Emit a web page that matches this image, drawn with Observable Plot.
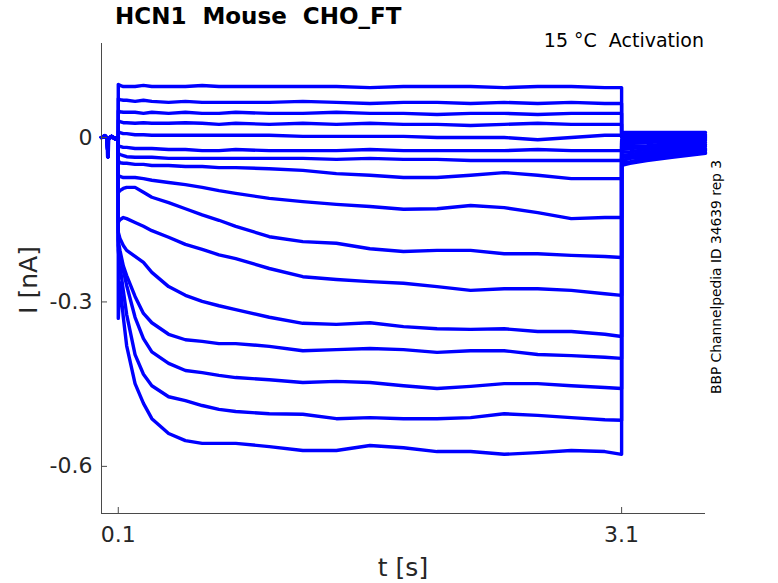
<!DOCTYPE html>
<html>
<head>
<meta charset="utf-8">
<script src="https://cdn.jsdelivr.net/npm/d3@7"></script>
<script src="https://cdn.jsdelivr.net/npm/@observablehq/plot@0.6"></script>
<style>
  html, body { margin: 0; padding: 0; background: #fff; }
  #wrap { position: relative; width: 778px; height: 583px; font-family: "DejaVu Sans", sans-serif; color: #000; }
  #wrap svg { position: absolute; left: 0; top: 0; }
  .lbl { position: absolute; white-space: nowrap; }
</style>
</head>
<body>
<div id="wrap">
  <div class="lbl" id="title" style="left:115px; top:3px; font-weight:bold; font-size:23px;">HCN1&nbsp; Mouse&nbsp; CHO_FT</div>
  <div class="lbl" id="subtitle" style="right:74px; top:29px; font-size:19px; color:#000;">15 °C&nbsp; Activation</div>
  <div class="lbl" id="ylab" style="left:28px; top:280px; font-size:25px; color:#262626; transform:translate(-50%,-50%) rotate(-90deg);">I [nA]</div>
  <div class="lbl" id="xlab" style="left:403px; top:567px; font-size:25px; color:#262626; transform:translate(-50%,-50%);">t [s]</div>
  <div class="lbl" id="side" style="left:716px; top:277px; font-size:13.8px; color:#000; transform:translate(-50%,-50%) rotate(-90deg);">BBP Channelpedia ID 34639 rep 3</div>
</div>
<script>
// ---- data ----
const xTicks = [0.1, 3.1];
const xTickLabels = ["0.1", "3.1"];
const yTicks = [-0.6, -0.3, 0];
const yTickLabels = ["-0.6", "-0.3", "0"];
const xDomain = [0, 3.6];
const yDomain = [-0.686, 0.1715];

// holding period before the step (s, nA)
const preTimes  = [0, 0.02, 0.035, 0.038, 0.041, 0.06, 0.08, 0.1];
const preValues = [0.0, 0.003, -0.002, -0.035, -0.003, 0.002, -0.002, 0.0];

// test-pulse sample times (s)
const stepTimes = [0.1, 0.11, 0.13, 0.15, 0.2, 0.25, 0.3, 0.4, 0.5, 0.6, 0.7, 0.8, 1.0, 1.2, 1.4, 1.6, 1.8, 2.0, 2.2, 2.4, 2.6, 2.8, 3.0, 3.1];

// current during the test pulse, one array per sweep (nA)
const sweep01 = [0.097, 0.095, 0.093, 0.093, 0.093, 0.095, 0.093, 0.093, 0.093, 0.095, 0.093, 0.093, 0.093, 0.093, 0.093, 0.091, 0.093, 0.093, 0.093, 0.091, 0.093, 0.093, 0.091, 0.091];
const sweep02 = [0.071, 0.069, 0.068, 0.068, 0.066, 0.068, 0.066, 0.064, 0.066, 0.064, 0.064, 0.064, 0.064, 0.066, 0.064, 0.062, 0.064, 0.064, 0.062, 0.064, 0.062, 0.064, 0.062, 0.062];
const sweep03 = [0.049, 0.047, 0.046, 0.046, 0.046, 0.044, 0.046, 0.044, 0.046, 0.044, 0.044, 0.046, 0.044, 0.044, 0.046, 0.044, 0.044, 0.042, 0.044, 0.044, 0.042, 0.044, 0.044, 0.044];
const sweep04 = [0.031, 0.029, 0.027, 0.027, 0.026, 0.027, 0.026, 0.026, 0.027, 0.026, 0.024, 0.026, 0.024, 0.026, 0.024, 0.026, 0.024, 0.024, 0.022, 0.024, 0.026, 0.024, 0.024, 0.024];
const sweep05 = [0.011, 0.009, 0.007, 0.007, 0.005, 0.005, 0.004, 0.004, 0.004, 0.004, 0.004, 0.004, 0.004, 0.002, 0.002, 0.002, 0.002, 0.000, 0.000, 0.000, -0.004, 0.000, 0.004, 0.004];
const sweep06 = [-0.015, -0.016, -0.018, -0.018, -0.020, -0.020, -0.020, -0.022, -0.022, -0.024, -0.024, -0.022, -0.024, -0.024, -0.024, -0.022, -0.024, -0.024, -0.024, -0.024, -0.022, -0.024, -0.024, -0.024];
const sweep07 = [-0.029, -0.031, -0.033, -0.035, -0.036, -0.036, -0.036, -0.038, -0.038, -0.038, -0.038, -0.038, -0.038, -0.038, -0.040, -0.038, -0.040, -0.040, -0.042, -0.042, -0.042, -0.042, -0.042, -0.042];
const sweep08 = [-0.042, -0.046, -0.047, -0.047, -0.049, -0.049, -0.051, -0.051, -0.053, -0.053, -0.055, -0.055, -0.057, -0.060, -0.066, -0.069, -0.073, -0.073, -0.069, -0.064, -0.069, -0.075, -0.075, -0.075];
const sweep09 = [-0.069, -0.071, -0.073, -0.073, -0.073, -0.075, -0.078, -0.082, -0.086, -0.091, -0.097, -0.102, -0.111, -0.117, -0.122, -0.126, -0.131, -0.130, -0.124, -0.128, -0.137, -0.148, -0.146, -0.146];
const sweep10 = [-0.100, -0.097, -0.093, -0.091, -0.091, -0.100, -0.109, -0.119, -0.130, -0.141, -0.151, -0.162, -0.181, -0.190, -0.193, -0.203, -0.208, -0.206, -0.206, -0.212, -0.212, -0.215, -0.217, -0.219];
const sweep11 = [-0.155, -0.150, -0.146, -0.148, -0.155, -0.162, -0.170, -0.182, -0.195, -0.204, -0.214, -0.221, -0.239, -0.254, -0.259, -0.263, -0.266, -0.272, -0.279, -0.276, -0.276, -0.279, -0.285, -0.288];
const sweep12 = [-0.173, -0.184, -0.197, -0.206, -0.217, -0.228, -0.246, -0.272, -0.288, -0.299, -0.307, -0.314, -0.328, -0.339, -0.341, -0.338, -0.345, -0.349, -0.350, -0.349, -0.354, -0.354, -0.359, -0.363];
const sweep13 = [-0.188, -0.206, -0.234, -0.252, -0.290, -0.321, -0.338, -0.359, -0.369, -0.372, -0.376, -0.376, -0.381, -0.389, -0.387, -0.385, -0.387, -0.392, -0.389, -0.389, -0.396, -0.398, -0.401, -0.403];
const sweep14 = [-0.197, -0.215, -0.243, -0.270, -0.328, -0.367, -0.391, -0.412, -0.425, -0.429, -0.434, -0.438, -0.442, -0.447, -0.445, -0.447, -0.453, -0.458, -0.454, -0.449, -0.449, -0.453, -0.456, -0.458];
const sweep15 = [-0.206, -0.234, -0.279, -0.323, -0.396, -0.432, -0.453, -0.473, -0.480, -0.489, -0.496, -0.500, -0.504, -0.505, -0.513, -0.511, -0.513, -0.513, -0.511, -0.504, -0.507, -0.511, -0.515, -0.516];
const sweep16 = [-0.330, -0.265, -0.328, -0.380, -0.449, -0.485, -0.513, -0.540, -0.553, -0.558, -0.558, -0.558, -0.564, -0.571, -0.571, -0.562, -0.566, -0.573, -0.573, -0.578, -0.575, -0.571, -0.573, -0.578];

// tail currents after the pulse, per sweep (nA) at tailTimes
const tailTimes = [3.1, 3.15, 3.25, 3.4, 3.6];
const tail310 = [0.009, 0.005, 0.004, 0.002, 0.000, -0.004, -0.007, -0.011, -0.016, -0.022, -0.027, -0.033, -0.036, -0.042, -0.046, -0.051];
const tail315 = [0.009, 0.005, 0.004, 0.002, 0.000, -0.004, -0.007, -0.011, -0.016, -0.020, -0.026, -0.031, -0.035, -0.038, -0.044, -0.047];
const tail325 = [0.009, 0.005, 0.004, 0.002, 0.000, -0.002, -0.005, -0.009, -0.015, -0.018, -0.022, -0.027, -0.031, -0.035, -0.038, -0.042];
const tail340 = [0.009, 0.005, 0.004, 0.002, 0.000, -0.002, -0.005, -0.007, -0.011, -0.015, -0.018, -0.022, -0.026, -0.029, -0.033, -0.036];
const tail360 = [0.009, 0.005, 0.004, 0.002, 0.000, -0.002, -0.004, -0.005, -0.009, -0.013, -0.016, -0.020, -0.022, -0.024, -0.027, -0.029];

// ---- build table ----
const sweeps = [sweep01, sweep02, sweep03, sweep04, sweep05, sweep06, sweep07, sweep08,
                sweep09, sweep10, sweep11, sweep12, sweep13, sweep14, sweep15, sweep16];
const tails = [tail310, tail315, tail325, tail340, tail360];
const rows = [];
sweeps.forEach((vals, s) => {
  preTimes.forEach((t, i) => rows.push({sweep: s, t, I: preValues[i]}));
  stepTimes.forEach((t, i) => rows.push({sweep: s, t, I: vals[i]}));
  tailTimes.forEach((t, i) => rows.push({sweep: s, t, I: tails[i][s]}));
});
const baseline = preTimes.map((t, i) => ({t, I: preValues[i]}));

const xLab = new Map(xTicks.map((d, i) => [d, xTickLabels[i]]));
const yLab = new Map(yTicks.map((d, i) => [d, yTickLabels[i]]));
const axisColor = "#4a4a4a";

const chart = Plot.plot({
  width: 778,
  height: 583,
  marginLeft: 101,
  marginRight: 73,
  marginTop: 43,
  marginBottom: 70,
  style: {fontFamily: "DejaVu Sans, sans-serif", fontSize: "22px", background: "transparent", color: "#262626"},
  x: {domain: xDomain},
  y: {domain: yDomain},
  marks: [
    Plot.line(baseline, {x: "t", y: "I", stroke: "#0000ff", strokeWidth: 4}),
    Plot.line(rows, {x: "t", y: "I", z: "sweep", stroke: "#0000ff", strokeWidth: 3.4, strokeLinejoin: "round"}),
    // axis lines (box off)
    Plot.ruleX([xDomain[0]], {stroke: axisColor, strokeWidth: 1}),
    Plot.ruleY([yDomain[0]], {stroke: axisColor, strokeWidth: 1}),
    // inward tick marks
    Plot.ruleX(xTicks, {x: d => d, y1: yDomain[0], y2: yDomain[0], insetTop: -6, stroke: axisColor}),
    Plot.ruleY(yTicks, {y: d => d, x1: xDomain[0], x2: xDomain[0], insetRight: -6, stroke: axisColor}),
    Plot.axisX(xTicks, {tickSize: 0, tickPadding: 13, tickFormat: d => xLab.get(d), fontSize: 22, label: null, color: "#262626"}),
    Plot.axisY(yTicks, {tickSize: 0, tickPadding: 9, tickFormat: d => yLab.get(d), fontSize: 22, label: null, color: "#262626"})
  ]
});
document.getElementById("wrap").prepend(chart);
</script>
</body>
</html>
